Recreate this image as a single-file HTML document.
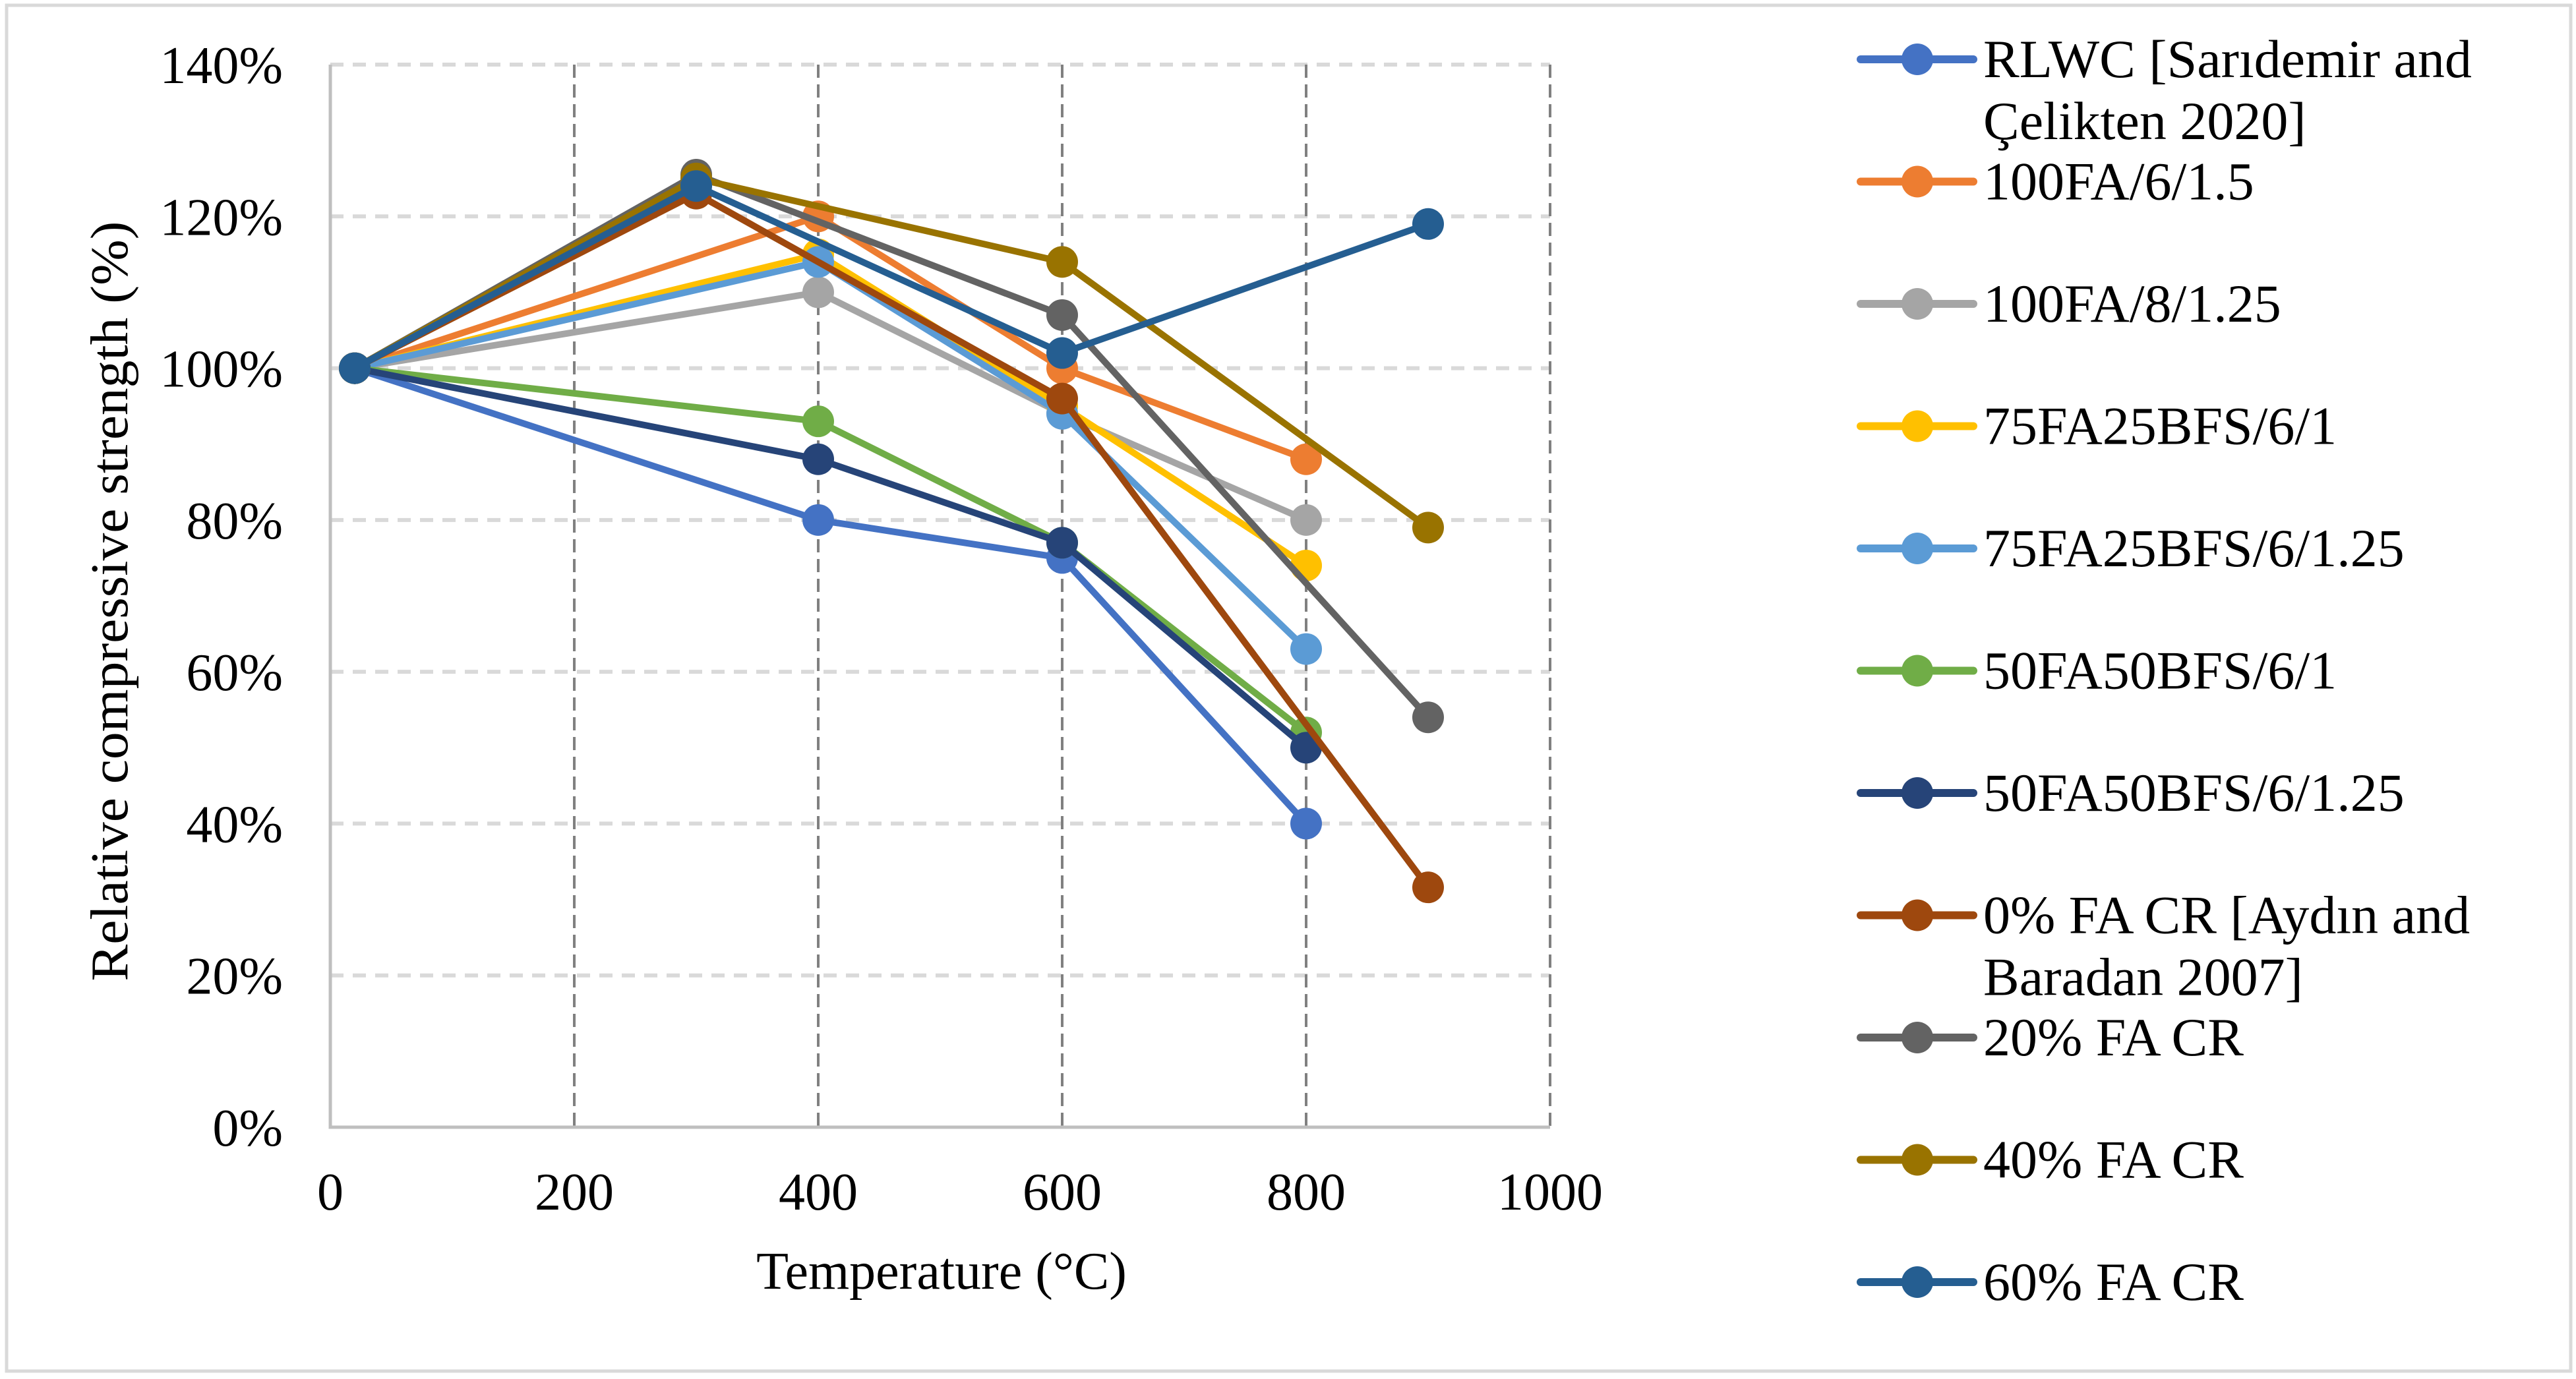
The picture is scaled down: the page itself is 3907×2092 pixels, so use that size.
<!DOCTYPE html>
<html><head><meta charset="utf-8"><style>
html,body{margin:0;padding:0;background:#fff}
svg{display:block}
text{font-family:"Liberation Serif",serif;fill:#000}
</style></head><body>
<svg id="chart" width="3907" height="2092" viewBox="0 0 3907 2092" xmlns="http://www.w3.org/2000/svg">
<rect x="10" y="8" width="3889" height="2072" fill="#fff" stroke="#d9d9d9" stroke-width="5"/>
<g id="grid"></g><g id="axes"></g><g id="series"></g><g id="legend"></g>
<text x="0" y="0" font-size="80" text-anchor="middle" textLength="1153" lengthAdjust="spacingAndGlyphs" transform="translate(193,912) rotate(-90)">Relative compressive strength (%)</text>
<text x="1428" y="1955" font-size="80" text-anchor="middle">Temperature (°C)</text>
</svg>
<script>
const xTicks=[0,200,400,600,800,1000];
const yTicks=[0,20,40,60,80,100,120,140];
const seriesNames=["RLWC [Sarıdemir and|Çelikten 2020]","100FA/6/1.5","100FA/8/1.25","75FA25BFS/6/1","75FA25BFS/6/1.25","50FA50BFS/6/1","50FA50BFS/6/1.25","0% FA CR [Aydın and|Baradan 2007]","20% FA CR","40% FA CR","60% FA CR"];
const seriesColors=["#4472c4","#ed7d31","#a5a5a5","#ffc000","#5b9bd5","#70ad47","#264478","#9e480e","#636363","#997300","#255e91"];
const tempsA=[20,400,600,800];
const tempsB=[20,300,600,900];
const sRLWC=[100,80,75,40];
const s100FA6=[100,120,100,88];
const s100FA8=[100,110,94,80];
const s75FA1=[100,115,95,74];
const s75FA125=[100,114,94,63];
const s50FA1=[100,93,77,52];
const s50FA125=[100,88,77,50];
const sCR0=[100,123,96,31.6];
const sCR20=[100,125.5,107,54];
const sCR40=[100,125,114,79];
const sCR60=[100,124,102,119];
const seriesX=[tempsA,tempsA,tempsA,tempsA,tempsA,tempsA,tempsA,tempsB,tempsB,tempsB,tempsB];
const seriesY=[sRLWC,s100FA6,s100FA8,s75FA1,s75FA125,s50FA1,s50FA125,sCR0,sCR20,sCR40,sCR60];

const NS="http://www.w3.org/2000/svg";
const X0=501,X1=2351,Y0=1710,Y1=98;
const xs=v=>X0+(v-0)/(1000-0)*(X1-X0);
const ys=v=>Y0-(v-0)/(140-0)*(Y0-Y1);
function mk(tag,attrs,parent){const e=document.createElementNS(NS,tag);for(const k in attrs)e.setAttribute(k,attrs[k]);parent.appendChild(e);return e;}
const grid=document.getElementById('grid'),axes=document.getElementById('axes'),ser=document.getElementById('series'),leg=document.getElementById('legend');
yTicks.forEach(t=>{
  if(t>0){const l=mk('line',{x1:X0,x2:X1,y1:ys(t),y2:ys(t),stroke:'#d9d9d9','stroke-width':6,'stroke-dasharray':'20 14'},grid);
  
  }
  const tx=mk('text',{x:429,y:ys(t)+28,'font-size':80,'text-anchor':'end'},axes);tx.textContent=t+'%';
  
  
});
xTicks.forEach(t=>{
  if(t>0){const l=mk('line',{x1:xs(t),x2:xs(t),y1:Y1,y2:Y0,stroke:'#808080','stroke-width':4,'stroke-dasharray':'20 10'},grid);
  
  }
  const tx=mk('text',{x:xs(t),y:1835,'font-size':80,'text-anchor':'middle'},axes);tx.textContent=t;
  
  
});
const ax=mk('path',{d:`M${X0},${Y1} L${X0},${Y0} L${X1},${Y0}`,fill:'none',stroke:'#bfbfbf','stroke-width':5},axes);


seriesY.forEach((vals,i)=>{
  const g=mk('g',{},ser);
  
  
  const pts=vals.map((v,j)=>xs(seriesX[i][j])+','+ys(v)).join(' ');
  const pl=mk('polyline',{points:pts,fill:'none',stroke:seriesColors[i],'stroke-width':10,'stroke-linejoin':'round'},g);
  
  
  vals.forEach((v,j)=>{
    const c=mk('circle',{cx:xs(seriesX[i][j]),cy:ys(v),r:24,fill:seriesColors[i]},g);
    
    
  });
});
seriesNames.forEach((n,i)=>{
  const y=90+i*185.5;
  const g=mk('g',{},leg);
  
  
  mk('line',{x1:2822,x2:2993,y1:y,y2:y,stroke:seriesColors[i],'stroke-width':12,'stroke-linecap':'round'},g);
  mk('circle',{cx:2908,cy:y,r:24,fill:seriesColors[i]},g);
  n.split('|').forEach((ln,k)=>{
    const t=mk('text',{x:3008,y:y+27+k*94,'font-size':82},g);t.textContent=ln;
  });
});
</script>
</body></html>
